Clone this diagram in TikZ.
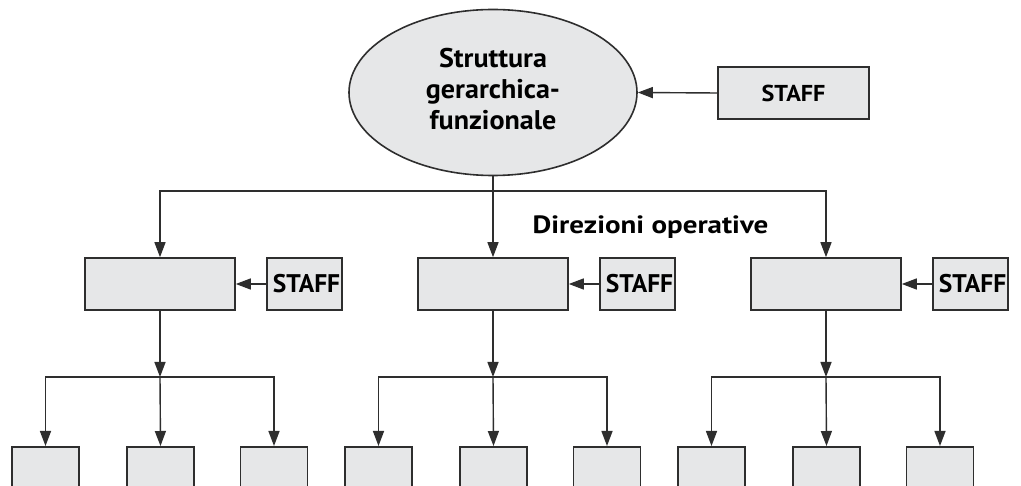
\documentclass[tikz,border=0pt]{standalone}
\usepackage{fontspec}
\setmainfont{PT Sans}
\usetikzlibrary{shapes.geometric,arrows.meta}
\definecolor{boxfill}{HTML}{E6E7E8}
\definecolor{edge}{HTML}{2E2E2E}
\tikzset{
  box/.style={draw=edge,fill=boxfill,line width=1.6pt,inner sep=0pt,anchor=center},
  midbox/.style={box,minimum width=150pt,minimum height=52pt},
  staffbox/.style={box,minimum width=75pt,minimum height=52pt,font=\bfseries\fontsize{25.5}{28}\selectfont},
  leafbox/.style={box,minimum width=67pt,minimum height=80pt,anchor=north},
  conn/.style={draw=edge,line width=1.4pt},
  arr/.style={conn,-{Triangle[length=15pt,width=11pt]}},
}
\begin{document}
\begin{tikzpicture}[x=1pt,y=-1pt]
\clip (0,0) rectangle (1021,486);
\fill[white] (0,0) rectangle (1021,486);
% top level
\node[box,ellipse,minimum width=288pt,minimum height=166pt,
  font=\bfseries\fontsize{27}{31}\selectfont] (ell) at (493,92.5)
  {\raisebox{-3pt}{\scalebox{1.04}[1]{\begin{tabular}{@{}c@{}}Struttura\\gerarchica-\\funzionale\end{tabular}}}};
\node[staffbox,minimum width=151pt,font=\bfseries\fontsize{23}{26}\selectfont] (st0) at (793.5,93) {\scalebox{1.05}[1]{STAFF}};
\draw[arr] (st0.west) -- (ell.east);
\coordinate (bus0) at (493,191);
\draw[conn] (ell.south) -- (bus0);
\node[font=\bfseries\fontsize{25}{28}\selectfont,anchor=base] (dir) at (650.5,234) {\scalebox{1.16}[1]{Direzioni operative}};
% groups
\foreach \i/\cx in {1/160,2/493,3/826}{
  \node[midbox] (m\i) at (\cx,284) {};
  \node[staffbox] (s\i) at (\cx+144.5,284) {\hspace*{4pt}STAFF};
  \draw[arr] (s\i.west) -- (m\i.east);
  \coordinate (j\i) at (\cx,377);
  \draw[arr] (m\i.south) -- (j\i);
  \node[leafbox] (la\i) at (\cx-114.5,446) {};
  \node[leafbox] (lb\i) at (\cx+0.5,446) {};
  \node[leafbox] (lc\i) at (\cx+114,446) {};
  \draw[arr] (j\i) -| (la\i.north);
  \draw[arr] (j\i) -- (lb\i.north);
  \draw[arr] (j\i) -| (lc\i.north);
}
\draw[arr] (bus0) -| (m1.north);
\draw[arr] (bus0) -- (m2.north);
\draw[arr] (bus0) -| (m3.north);
\end{tikzpicture}
\end{document}
